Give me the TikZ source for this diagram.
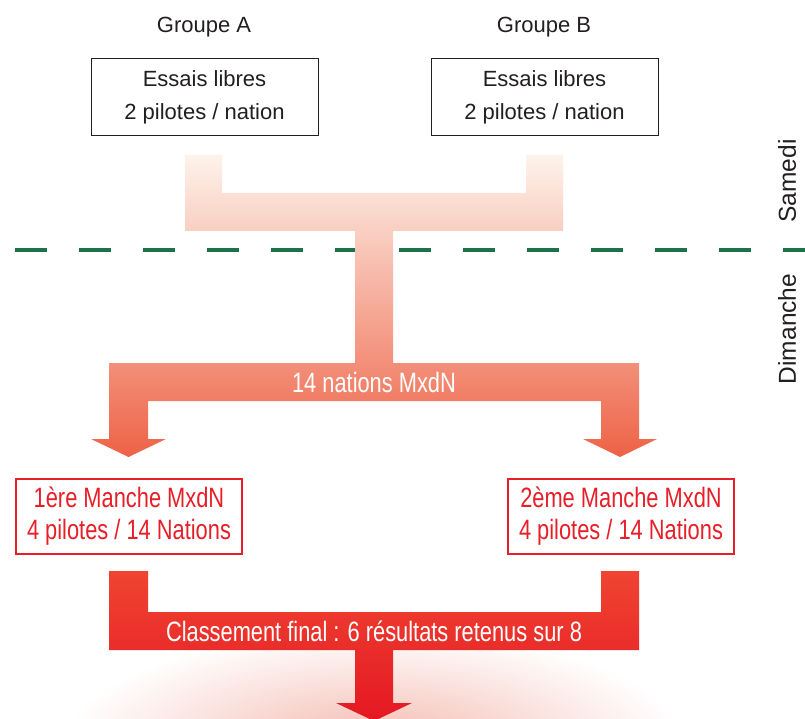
\documentclass[tikz,border=0pt]{standalone}
\usepackage{fontspec}
\setmainfont{Liberation Sans}
\newfontfamily\narrowsans[FakeStretch=0.78]{Liberation Sans}
\definecolor{dashgreen}{RGB}{28,115,75}
\definecolor{flowtop}{RGB}{253,243,235}
\definecolor{flowbot}{RGB}{238,98,70}
\definecolor{redtop}{RGB}{240,68,50}
\definecolor{redbot}{RGB}{228,24,34}
\definecolor{boxred}{RGB}{232,30,40}
\definecolor{glow}{RGB}{244,185,175}
\definecolor{inkgrey}{RGB}{35,31,32}
\begin{document}
\begin{tikzpicture}[x=1pt,y=-1pt,
  lbl/.style={font=\fontsize{22}{26}\selectfont, text=inkgrey, inner sep=0pt},
  greybox/.style={draw=inkgrey, line width=1pt, minimum width=227pt, minimum height=77pt, align=center, text=inkgrey, font=\fontsize{22}{33}\selectfont, inner sep=0pt},
  redbox/.style={draw=boxred, line width=2.5pt, text=boxred, minimum width=226pt, minimum height=75pt, align=center, font=\narrowsans\fontsize{28}{32}\selectfont, inner sep=0pt},
  bartext/.style={text=white, font=\narrowsans\fontsize{28}{30}\selectfont, inner sep=0pt},
  daytext/.style={rotate=90, font=\fontsize{24.5}{28}\selectfont, text=inkgrey, inner sep=0pt}]
\useasboundingbox (0,0) rectangle (805,719);
\fill[white] (0,0) rectangle (805,719);
% separation line
\coordinate (dashL) at (15,250);
\coordinate (dashR) at (805,250);
\draw[dashgreen, line width=3pt, dash pattern=on 32pt off 32pt] (dashL) -- (dashR);
% glow under final arrow
\begin{scope}
\clip (0,0) rectangle (805,719);
\shade[inner color=glow, outer color=white] (374,745) ellipse [x radius=310pt, y radius=115pt];
\end{scope}
% upper flow
\shade[top color=flowtop, bottom color=flowbot]
 (185,155) -- (222,155) -- (222,193) -- (526,193) -- (526,155) -- (563,155) -- (563,231)
 -- (393,231) -- (393,363) -- (639,363) -- (639,439) -- (657,439) -- (620,457) -- (583,439)
 -- (601,439) -- (601,401) -- (148,401) -- (148,439) -- (166,439) -- (128.5,457) -- (91,439)
 -- (109,439) -- (109,363) -- (355,363) -- (355,231) -- (185,231) -- cycle;
% lower flow
\begin{scope}
\clip (0,0) rectangle (805,719);
\shade[top color=redtop, bottom color=redbot]
 (109,571) -- (148,571) -- (148,612) -- (601,612) -- (601,571) -- (639,571) -- (639,650)
 -- (393,650) -- (393,703) -- (412,703) -- (374,721) -- (336,703) -- (355,703) -- (355,650)
 -- (109,650) -- cycle;
\end{scope}
% labels
\node[lbl] (gA) at (204,27) {Groupe A};
\node[lbl] (gB) at (544,27) {Groupe B};
\node[greybox] (boxA) at (204.5,97.5) {Essais libres\\2 pilotes / nation};
\node[greybox] (boxB) at (544.5,97.5) {Essais libres\\2 pilotes / nation};
\node[redbox] (r1) at (129,516.5) {1ère Manche MxdN\\4 pilotes / 14 Nations};
\node[redbox] (r2) at (621,516.5) {2ème Manche MxdN\\4 pilotes / 14 Nations};
\node[bartext] (t14) at (374,382) {14 nations MxdN};
\node[bartext] (cls) at (374,631) {Classement final : 6 résultats retenus sur 8};
\node[daytext] (sam) at (787,181) {Samedi};
\node[daytext] (dim) at (787,329) {Dimanche};
\end{tikzpicture}
\end{document}
